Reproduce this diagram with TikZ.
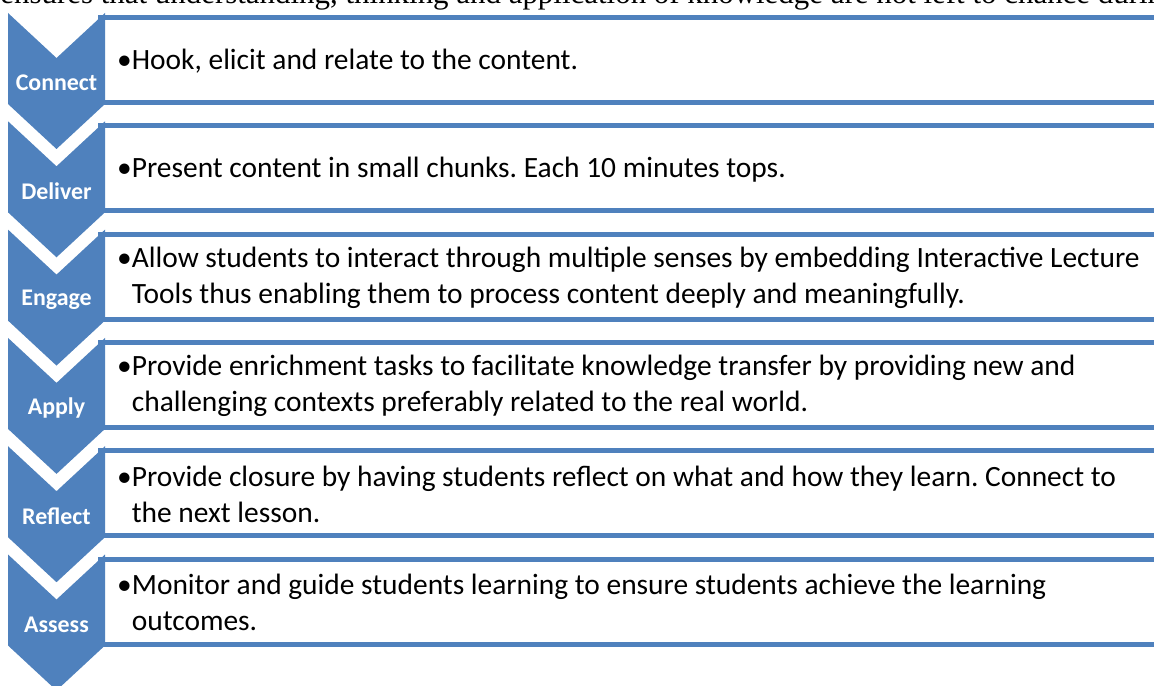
\documentclass[tikz,border=0pt]{standalone}
\usepackage{fontspec}
\setmainfont{Carlito}
\newfontfamily\introfont{Liberation Serif}
\frenchspacing
\usetikzlibrary{calc}
\definecolor{stepblue}{HTML}{4F81BD}
\tikzset{
  steplabel/.style={white, font=\bfseries\fontsize{13.6}{16}\selectfont},
  steptext/.style={anchor=west, align=left, inner sep=0pt, font=\fontsize{16.75}{20.2}\selectfont},
}

\begin{document}
\begin{tikzpicture}[x=0.02cm, y=-0.02cm]
  \useasboundingbox (0,0) rectangle (1154,686);
  \clip (0,0) rectangle (1154,686);
  \node[anchor=base west, inner sep=0pt, font=\introfont\fontsize{17.6}{21}\selectfont] (intro) at (0,4)
    {ensures that understanding, thinking and application of knowledge are not left to chance during};
  % one chevron and one outlined box per step, 108.3 units apart
  \foreach \i/\lab/\txt in {
      0/Connect/{\llap{•}Hook, elicit and relate to the content.},
      1/Deliver/{\llap{•}Present content in small chunks. Each 10 minutes tops.},
      2/Engage/{\llap{•}Allow students to interact through multiple senses by embedding Interactive Lecture\\Tools thus enabling them to process content deeply and meaningfully.},
      3/Apply/{\llap{•}Provide enrichment tasks to facilitate knowledge transfer by providing new and\\challenging contexts preferably related to the real world.},
      4/Reflect/{\llap{•}Provide closure by having students reflect on what and how they learn. Connect to\\the next lesson.},
      5/Assess/{\llap{•}Monitor and guide students learning to ensure students achieve the learning\\outcomes.}}{
    \pgfmathsetmacro{\t}{13+108.3*\i}
    \draw[stepblue, line width=0.1cm, fill=white] (100,\t+4.5) rectangle (1180,\t+89.5);
    \fill[stepblue] (8,\t) -- (56.5,\t+45) -- (105,\t) -- (105,\t+91)
      -- (56.5,\t+136) -- (8,\t+91) -- cycle;
    \node[steplabel] (lab\i) at (56.5,\t+70) {\lab};
    \node[steptext] (txt\i) at (131.5,\t+48) {\txt};
  }
\end{tikzpicture}
\end{document}
